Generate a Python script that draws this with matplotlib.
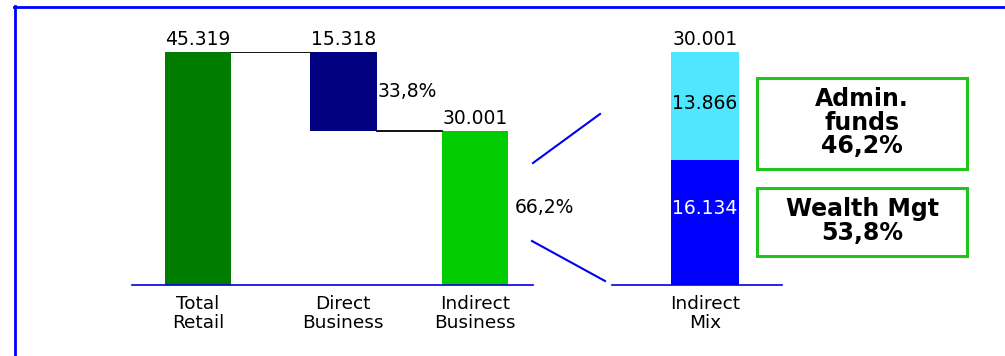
import matplotlib
matplotlib.use("Agg")
import matplotlib.pyplot as plt
from matplotlib.patches import Rectangle
from matplotlib.lines import Line2D

# waterfall: total retail split into direct / indirect business
categories = ["Total\nRetail", "Direct\nBusiness", "Indirect\nBusiness"]
total_retail = 45.319
direct_business = 15.318
indirect_business = 30.001
direct_pct = "33,8%"
indirect_pct = "66,2%"

# indirect mix stacked bar
mix_category = ["Indirect\nMix"]
wealth_mgt = 16.134
admin_funds = 13.866
mix_total = 30.001
admin_box_text = "Admin.\nfunds\n46,2%"
wealth_box_text = "Wealth Mgt\n53,8%"

W, H = 1005, 356


def fx(px):
    return px / W


def fy(py):
    return 1 - py / H


fig = plt.figure(figsize=(W / 100, H / 100), dpi=100)

# ---------------- left waterfall ----------------
ax1 = fig.add_axes([fx(132), fy(285), (533 - 132) / W, (285 - 52) / H])
bw = 0.48
xs = [0, 1.05, 2]
bottoms = [0, indirect_business, 0]
heights = [total_retail, direct_business, indirect_business]
colors = ["#007c00", "#000080", "#00cc00"]
ax1.bar(xs, heights, bottom=bottoms, width=bw, color=colors)

# connector lines between bars
ax1.plot([xs[0] + bw / 2, xs[1] - bw / 2], [total_retail, total_retail],
         color="black", lw=1.3)
ax1.plot([xs[1] + bw / 2, xs[2] - bw / 2], [indirect_business, indirect_business],
         color="black", lw=1.3)

labels = ["45.319", "15.318", "30.001"]
tops = [total_retail, total_retail, indirect_business]
for x, t, lab in zip(xs, tops, labels):
    ax1.annotate(lab, (x, t), xytext=(0, 2), textcoords="offset points",
                 ha="center", va="bottom", fontsize=13.5)

ax1.annotate(direct_pct, (xs[1] + bw / 2, indirect_business + direct_business / 2),
             xytext=(1, 0), textcoords="offset points",
             ha="left", va="center", fontsize=13.5)
ax1.annotate(indirect_pct, (xs[2] + bw / 2, indirect_business / 2),
             xytext=(5, 0), textcoords="offset points",
             ha="left", va="center", fontsize=13.5)

ax1.set_xlim(-0.477, 2.42)
ax1.set_ylim(0, total_retail)
ax1.set_xticks(xs)
ax1.set_xticklabels(categories, fontsize=13.3, linespacing=1.08)
ax1.tick_params(axis="x", length=0, pad=7)
ax1.set_yticks([])
for s in ["top", "right", "left"]:
    ax1.spines[s].set_visible(False)
ax1.spines["bottom"].set_color("#0000dd")
ax1.spines["bottom"].set_linewidth(1.2)
ax1.patch.set_alpha(0)

# ---------------- right stacked bar ----------------
ax2 = fig.add_axes([fx(612), fy(285), (782 - 612) / W, (285 - 52) / H])
bw2 = 0.5
ax2.bar([0], [wealth_mgt], width=bw2, color="#0000ff")
ax2.bar([0], [admin_funds], bottom=[wealth_mgt], width=bw2, color="#50e6ff")
ax2.annotate("16.134", (0, wealth_mgt / 2), xytext=(0, 10), textcoords="offset points",
             ha="center", va="center", fontsize=13.5, color="white")
ax2.annotate("13.866", (0, wealth_mgt + admin_funds / 2), xytext=(0, 2),
             textcoords="offset points", ha="center", va="center",
             fontsize=13.5, color="black")
ax2.annotate("30.001", (0, mix_total), xytext=(0, 2), textcoords="offset points",
             ha="center", va="bottom", fontsize=13.5)
ax2.set_xlim(-0.684, 0.566)
ax2.set_ylim(0, mix_total)
ax2.set_xticks([0])
ax2.set_xticklabels(mix_category, fontsize=13.3, linespacing=1.08)
ax2.tick_params(axis="x", length=0, pad=7)
ax2.set_yticks([])
for s in ["top", "right", "left"]:
    ax2.spines[s].set_visible(False)
ax2.spines["bottom"].set_color("#0000dd")
ax2.spines["bottom"].set_linewidth(1.2)
ax2.patch.set_alpha(0)

# zoom lines from indirect bar to the mix bar
for (x0, y0), (x1, y1) in [((533, 163), (600, 114)), ((532, 241), (605, 281))]:
    fig.add_artist(Line2D([fx(x0), fx(x1)], [fy(y0), fy(y1)],
                          transform=fig.transFigure, color="#0000ee", lw=1.5))

# legend boxes
green = "#1fc41f"
for (top, bot), txt in [((78, 169), admin_box_text), ((188, 256), wealth_box_text)]:
    fig.add_artist(Rectangle((fx(757), fy(bot)), (967 - 757) / W, (bot - top) / H,
                             transform=fig.transFigure, fill=False,
                             edgecolor=green, lw=2.2))
    fig.text(fx(862), fy((top + bot) / 2 - 1), txt, ha="center", va="center",
             fontsize=17, fontweight="bold", linespacing=0.95)

# frame along top and left edges
fig.add_artist(Line2D([fx(14), 1], [fy(6.5), fy(6.5)], transform=fig.transFigure,
                      color="#0000ff", lw=2))
fig.add_artist(Line2D([fx(14.5), fx(14.5)], [fy(6), 0], transform=fig.transFigure,
                      color="#0000ff", lw=2))

fig.savefig("out.png", dpi=100)
